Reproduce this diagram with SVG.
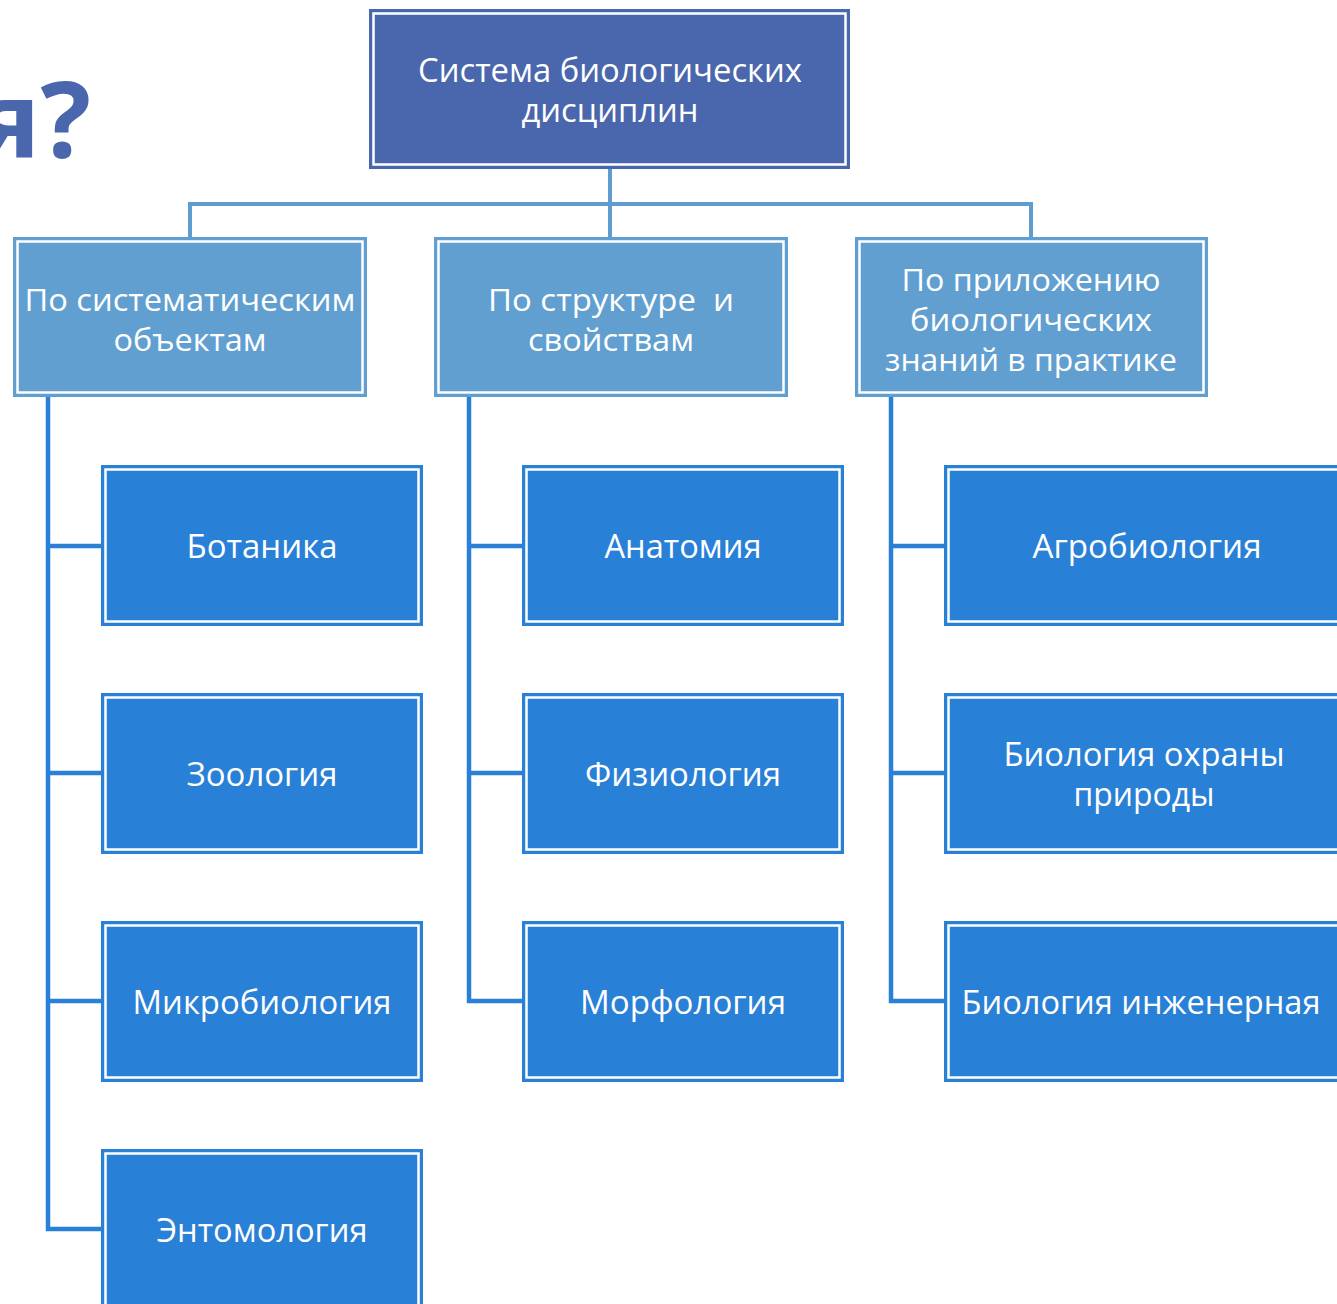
<svg xmlns="http://www.w3.org/2000/svg" width="1337" height="1304" viewBox="0 0 1337 1304">
<style>
.t{font-family:"Open Sans","Noto Sans","DejaVu Sans",sans-serif;fill:#ffffff;text-anchor:middle}
.t1{font-size:33px}
.t2{font-size:31px}
.t3{font-size:33px}
.in{fill:none;stroke:#ffffff;stroke-width:2.5}
.c1{fill:none;stroke:#5f9dd1;stroke-width:4}
.c2{fill:none;stroke:#2a80d6;stroke-width:4.5}
.title{font-family:"Open Sans","Noto Sans","DejaVu Sans",sans-serif;font-weight:bold;font-size:106px;fill:#4a67ad;text-anchor:end}
</style>
<rect width="1337" height="1304" fill="#ffffff"/>
<text class="title" x="91" y="158">я?</text>
<g id="connectors">
<path class="c1" d="M610 169 V237 M190 237 V204 H1031 V237"/>
<path class="c2" d="M48 397 V1229 H101 M48 546 H101 M48 773 H101 M48 1001 H101"/>
<path class="c2" d="M469 397 V1001 H522 M469 546 H522 M469 773 H522"/>
<path class="c2" d="M891 397 V1001 H944 M891 546 H944 M891 773 H944"/>
</g>
<g id="root">
<rect x="369" y="9" width="481" height="160" fill="#4a67ad"/>
<rect class="in" x="373.5" y="13.5" width="472" height="151"/>
<text class="t t1" x="610" y="82" textLength="384" lengthAdjust="spacingAndGlyphs">Система биологических</text>
<text class="t t1" x="610" y="122" textLength="177" lengthAdjust="spacingAndGlyphs">дисциплин</text>
</g>
<g id="cat1">
<rect x="13" y="237" width="354" height="160" fill="#619fd1"/>
<rect class="in" x="17.5" y="241.5" width="345" height="151"/>
<text class="t t2" x="190" y="311" textLength="331" lengthAdjust="spacingAndGlyphs">По систематическим</text>
<text class="t t2" x="190" y="351" textLength="153" lengthAdjust="spacingAndGlyphs">объектам</text>
</g>
<g id="cat2">
<rect x="434" y="237" width="354" height="160" fill="#619fd1"/>
<rect class="in" x="438.5" y="241.5" width="345" height="151"/>
<text class="t t2" x="611" y="311" textLength="246" lengthAdjust="spacingAndGlyphs" style="white-space:pre">По структуре  и</text>
<text class="t t2" x="611" y="351" textLength="166" lengthAdjust="spacingAndGlyphs">свойствам</text>
</g>
<g id="cat3">
<rect x="855" y="237" width="353" height="160" fill="#619fd1"/>
<rect class="in" x="859.5" y="241.5" width="344" height="151"/>
<text class="t t2" x="1031" y="291" textLength="259" lengthAdjust="spacingAndGlyphs">По приложению</text>
<text class="t t2" x="1031" y="331" textLength="242" lengthAdjust="spacingAndGlyphs">биологических</text>
<text class="t t2" x="1031" y="371" textLength="292" lengthAdjust="spacingAndGlyphs">знаний в практике</text>
</g>
<g id="botanika">
<rect x="101" y="465" width="322" height="161" fill="#2980d7"/>
<rect class="in" x="105.5" y="469.5" width="313" height="152"/>
<text class="t t3" x="262" y="558" textLength="151" lengthAdjust="spacingAndGlyphs">Ботаника</text>
</g>
<g id="zoologia">
<rect x="101" y="693" width="322" height="161" fill="#2980d7"/>
<rect class="in" x="105.5" y="697.5" width="313" height="152"/>
<text class="t t3" x="262" y="786" textLength="151" lengthAdjust="spacingAndGlyphs">Зоология</text>
</g>
<g id="mikrobiologia">
<rect x="101" y="921" width="322" height="161" fill="#2980d7"/>
<rect class="in" x="105.5" y="925.5" width="313" height="152"/>
<text class="t t3" x="262" y="1014" textLength="259" lengthAdjust="spacingAndGlyphs">Микробиология</text>
</g>
<g id="entomologia">
<rect x="101" y="1149" width="322" height="170" fill="#2980d7"/>
<rect class="in" x="105.5" y="1153.5" width="313" height="161"/>
<text class="t t3" x="262" y="1242" textLength="211" lengthAdjust="spacingAndGlyphs">Энтомология</text>
</g>
<g id="anatomia">
<rect x="522" y="465" width="322" height="161" fill="#2980d7"/>
<rect class="in" x="526.5" y="469.5" width="313" height="152"/>
<text class="t t3" x="683" y="558" textLength="157" lengthAdjust="spacingAndGlyphs">Анатомия</text>
</g>
<g id="fiziologia">
<rect x="522" y="693" width="322" height="161" fill="#2980d7"/>
<rect class="in" x="526.5" y="697.5" width="313" height="152"/>
<text class="t t3" x="683" y="786" textLength="196" lengthAdjust="spacingAndGlyphs">Физиология</text>
</g>
<g id="morfologia">
<rect x="522" y="921" width="322" height="161" fill="#2980d7"/>
<rect class="in" x="526.5" y="925.5" width="313" height="152"/>
<text class="t t3" x="683" y="1014" textLength="206" lengthAdjust="spacingAndGlyphs">Морфология</text>
</g>
<g id="agrobiologia">
<rect x="944" y="465" width="410" height="161" fill="#2980d7"/>
<rect class="in" x="948.5" y="469.5" width="401" height="152"/>
<text class="t t3" x="1147" y="558" textLength="229" lengthAdjust="spacingAndGlyphs">Агробиология</text>
</g>
<g id="ohrana">
<rect x="944" y="693" width="410" height="161" fill="#2980d7"/>
<rect class="in" x="948.5" y="697.5" width="401" height="152"/>
<text class="t t3" x="1144" y="766" textLength="281" lengthAdjust="spacingAndGlyphs">Биология охраны</text>
<text class="t t3" x="1144" y="806" textLength="141" lengthAdjust="spacingAndGlyphs">природы</text>
</g>
<g id="inzhenernaya">
<rect x="944" y="921" width="410" height="161" fill="#2980d7"/>
<rect class="in" x="948.5" y="925.5" width="401" height="152"/>
<text class="t t3" x="1141" y="1014" textLength="359" lengthAdjust="spacingAndGlyphs">Биология инженерная</text>
</g>
</svg>
